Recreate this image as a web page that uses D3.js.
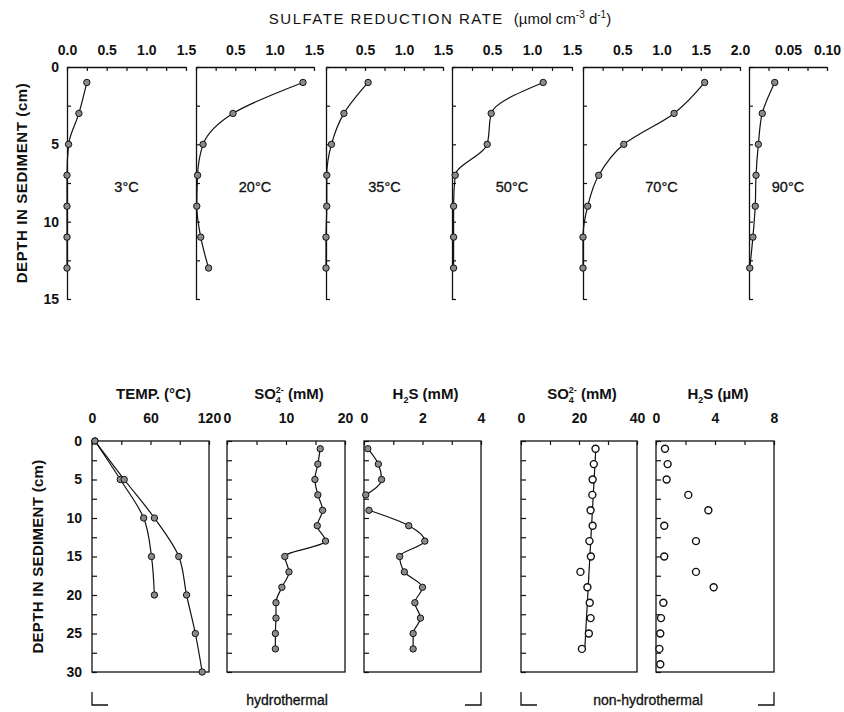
<!DOCTYPE html>
<html lang="en">
<head>
<meta charset="UTF-8">
<title>Sulfate reduction and porewater profiles</title>
<script src="https://d3js.org/d3.v7.min.js"></script>
<style>
  body { margin: 0; background: #fff; }
  svg { display: block; font-family: "Liberation Sans", Arial, Helvetica, sans-serif; }
</style>
</head>
<body>
<div id="chart"></div>
<script>
// ---- Data: sulfate reduction rate (umol cm-3 d-1) vs depth (cm)
const rateDepths = [1, 3, 5, 7, 9, 11, 13];
const rate3C  = [0.25, 0.15, 0.02, 0.00, 0.00, 0.00, 0.00];
const rate20C = [1.36, 0.47, 0.09, 0.02, 0.01, 0.06, 0.16];
const rate35C = [0.54, 0.23, 0.07, 0.01, 0.01, 0.00, 0.00];
const rate50C = [1.14, 0.49, 0.44, 0.04, 0.02, 0.02, 0.02];
const rate70C = [1.55, 1.16, 0.52, 0.20, 0.06, 0.00, 0.00];
const rate90C = [0.033, 0.017, 0.012, 0.009, 0.008, 0.005, 0.001];
const incubationTemps = ["3°C", "20°C", "35°C", "50°C", "70°C", "90°C"];
const rateMax = [1.5, 1.5, 1.5, 1.5, 2.0, 0.10];
const rateTickStep = [0.25, 0.25, 0.25, 0.25, 0.25, 0.025];
const rateTickLabels = [
  [0, 0.5, 1.0, 1.5], [0.5, 1.0, 1.5], [0.5, 1.0, 1.5],
  [0.5, 1.0, 1.5], [0.5, 1.0, 1.5, 2.0], [0.05, 0.10]
];
const rateDepthLabels = [0, 5, 10, 15];

// ---- Data: temperature (°C), two cores
const tempDepthsA = [0, 5, 10, 15, 20, 25, 30];
const tempA = [3, 33, 64, 89, 97, 106, 113];
const tempDepthsB = [0, 5, 10, 15, 20];
const tempB = [3, 29, 53, 61, 64];
const tempTickLabels = [0, 60, 120];

// ---- Data: porewater, hydrothermal
const poreDepths = [1, 3, 5, 7, 9, 11, 13, 15, 17, 19, 21, 23, 25, 27];
const so4Hydro = [15.8, 15.4, 14.9, 15.4, 16.2, 15.3, 16.7, 9.8, 10.5, 9.3, 8.3, 8.3, 8.2, 8.2];
const h2sHydro = [0.13, 0.49, 0.60, 0.06, 0.17, 1.53, 2.08, 1.22, 1.38, 2.00, 1.74, 1.93, 1.68, 1.68];
const h2sHydroGapAfter = 7; // profile not joined between 7 and 9 cm
const so4HydroTickLabels = [0, 10, 20];
const h2sHydroTickLabels = [0, 2, 4];

// ---- Data: porewater, non-hydrothermal
const so4NonHydro = [25.7, 25.1, 24.7, 24.6, 24.0, 24.7, 23.6, 24.1, 20.5, 22.9, 23.7, 24.0, 23.4, 21.0];
const so4FitDepths = [1, 27];
const so4FitValues = [25.8, 22.0];
const h2sNonHydroDepths = [1, 3, 5, 7, 9, 11, 13, 15, 17, 19, 21, 23, 25, 27, 29];
const h2sNonHydro = [0.61, 0.79, 0.72, 2.19, 3.55, 0.56, 2.71, 0.56, 2.71, 3.91, 0.50, 0.34, 0.29, 0.23, 0.29];
const so4NonHydroTickLabels = [0, 20, 40];
const h2sNonHydroTickLabels = [0, 4, 8];
const poreDepthLabels = [0, 5, 10, 15, 20, 25, 30];

// ---- Canvas
const width = 844, height = 712;
const ink = "#111";
const dotFill = "#8a8a8a";

const svg = d3.select("#chart").append("svg")
  .attr("width", width)
  .attr("height", height)
  .attr("viewBox", `0 0 ${width} ${height}`);

const zip = (depths, values) => depths.map((d, i) => ({ d, v: values[i] }));

function styleAxis(sel) {
  sel.select(".domain").attr("stroke", ink).attr("stroke-width", 1.3);
  sel.selectAll(".tick line").attr("stroke", ink).attr("stroke-width", 1.2);
}

function labelAxis(sel, size) {
  sel.select(".domain").remove();
  sel.selectAll(".tick text")
    .attr("fill", ink)
    .attr("font-size", size)
    .attr("font-weight", "bold")
    .attr("font-family", "Liberation Sans, Arial, sans-serif");
}

function drawProfile(g, x, y, pts, opts) {
  if (opts.line) {
    g.append("path")
      .datum(pts)
      .attr("fill", "none")
      .attr("stroke", ink)
      .attr("stroke-width", 1.2)
      .attr("d", d3.line().x(p => x(p.v)).y(p => y(p.d)).curve(d3.curveMonotoneY));
  }
  g.selectAll(null)
    .data(pts)
    .join("circle")
    .attr("cx", p => x(p.v))
    .attr("cy", p => y(p.d))
    .attr("r", opts.open ? 3.5 : 3.2)
    .attr("fill", opts.open ? "#fff" : dotFill)
    .attr("stroke", ink)
    .attr("stroke-width", opts.open ? 1.4 : 1);
}

// ================= Top: sulfate reduction rates =================
const rateY = d3.scaleLinear().domain([0, 15]).range([67, 299]);
const rateSeries = [rate3C, rate20C, rate35C, rate50C, rate70C, rate90C];
const topPanels = [[67, 186], [196, 314], [326, 443], [452, 572], [583, 740], [749, 827]];

svg.append("text")
  .attr("x", 440)
  .attr("y", 24)
  .attr("text-anchor", "middle")
  .attr("font-size", 15)
  .attr("fill", ink)
  .html(`<tspan letter-spacing="1.5">SULFATE REDUCTION RATE</tspan><tspan dx="10">(µmol cm</tspan><tspan font-size="10" dy="-6">-3</tspan><tspan dy="6"> d</tspan><tspan font-size="10" dy="-6">-1</tspan><tspan dy="6">)</tspan>`);

topPanels.forEach(([x0, x1], i) => {
  const x = d3.scaleLinear().domain([0, rateMax[i]]).range([x0, x1]);
  const g = svg.append("g");

  g.append("g")
    .attr("transform", `translate(0,${rateY(0)})`)
    .call(d3.axisTop(x)
      .tickValues(d3.range(0, rateMax[i] + 1e-9, rateTickStep[i]))
      .tickSize(-4).tickSizeOuter(0).tickFormat(""))
    .call(styleAxis);

  g.append("g")
    .attr("transform", `translate(0,${rateY(0)})`)
    .call(d3.axisTop(x)
      .tickValues(rateTickLabels[i])
      .tickSize(0).tickPadding(12)
      .tickFormat(d3.format(i === 5 ? ".2f" : ".1f")))
    .call(labelAxis, 14);

  g.append("g")
    .attr("transform", `translate(${x0},0)`)
    .call(d3.axisLeft(rateY)
      .tickValues(d3.range(0, 15.01, 2.5))
      .tickSize(-4).tickSizeOuter(0).tickFormat(""))
    .call(styleAxis);

  if (i === 0) {
    g.append("g")
      .attr("transform", `translate(${x0},0)`)
      .call(d3.axisLeft(rateY).tickValues(rateDepthLabels).tickSize(0).tickPadding(8))
      .call(labelAxis, 14);
  }

  drawProfile(g, x, rateY, zip(rateDepths, rateSeries[i]), { line: true });

  g.append("text")
    .attr("x", (x0 + x1) / 2)
    .attr("y", 192)
    .attr("text-anchor", "middle")
    .attr("font-size", 14.5)
    .attr("fill", ink)
    .attr("stroke", ink)
    .attr("stroke-width", 0.3)
    .text(incubationTemps[i]);
});

svg.append("text")
  .attr("transform", `translate(27,${(67 + 299) / 2}) rotate(-90)`)
  .attr("text-anchor", "middle")
  .attr("font-size", 15)
  .attr("font-weight", "bold")
  .attr("letter-spacing", 0.6)
  .attr("fill", ink)
  .text("DEPTH IN SEDIMENT (cm)");

// ================= Bottom: temperature and porewater =================
const depthY = d3.scaleLinear().domain([0, 30]).range([441, 672]);

const bottomPanels = [
  { x0: 92,  x1: 209, max: 120, step: 30,  labels: tempTickLabels, title: "TEMP. (°C)" },
  { x0: 227, x1: 345, max: 20,  step: 5,   labels: so4HydroTickLabels, title: "so4", unit: "mM" },
  { x0: 364, x1: 481, max: 4,   step: 1,   labels: h2sHydroTickLabels, title: "h2s", unit: "mM" },
  { x0: 521, x1: 637, max: 40,  step: 10,  labels: so4NonHydroTickLabels, title: "so4", unit: "mM" },
  { x0: 656, x1: 774, max: 8,   step: 2,   labels: h2sNonHydroTickLabels, title: "h2s", unit: "µM" }
];

const bx = bottomPanels.map((p, i) => {
  const x = d3.scaleLinear().domain([0, p.max]).range([p.x0, p.x1]);
  const g = svg.append("g");

  g.append("rect")
    .attr("x", p.x0).attr("y", depthY(0))
    .attr("width", p.x1 - p.x0).attr("height", depthY(30) - depthY(0))
    .attr("fill", "none").attr("stroke", ink).attr("stroke-width", 1.3);

  g.append("g")
    .attr("transform", `translate(0,${depthY(0)})`)
    .call(d3.axisTop(x).tickValues(d3.range(0, p.max + 1e-9, p.step))
      .tickSize(-4).tickSizeOuter(0).tickFormat(""))
    .call(styleAxis)
    .call(s => s.select(".domain").remove());

  g.append("g")
    .attr("transform", `translate(0,${depthY(0)})`)
    .call(d3.axisTop(x).tickValues(p.labels).tickSize(0).tickPadding(18).tickFormat(d3.format("d")))
    .call(labelAxis, 14);

  g.append("g")
    .attr("transform", `translate(${p.x0},0)`)
    .call(d3.axisLeft(depthY).tickValues(d3.range(0, 30.01, 2.5))
      .tickSize(-5).tickSizeOuter(0).tickFormat(""))
    .call(styleAxis)
    .call(s => s.select(".domain").remove());

  if (i === 0) {
    g.append("g")
      .attr("transform", `translate(${p.x0},0)`)
      .call(d3.axisLeft(depthY).tickValues(poreDepthLabels).tickSize(0).tickPadding(10))
      .call(labelAxis, 14);
  }

  const t = g.append("text")
    .attr("x", (p.x0 + p.x1) / 2 + 3)
    .attr("y", 399)
    .attr("text-anchor", "middle")
    .attr("font-size", 15)
    .attr("font-weight", "bold")
    .attr("fill", ink);
  if (p.title === "so4") {
    t.html(`SO<tspan font-size="9" dy="4">4</tspan><tspan font-size="9" dx="-5" dy="-10">2-</tspan><tspan dy="6"> (${p.unit})</tspan>`);
  } else if (p.title === "h2s") {
    t.html(`H<tspan font-size="9" dy="4">2</tspan><tspan dy="-4">S (${p.unit})</tspan>`);
  } else {
    t.text(p.title);
  }
  return { g, x };
});

// temperature: two cores
drawProfile(bx[0].g, bx[0].x, depthY, zip(tempDepthsB, tempB), { line: true });
drawProfile(bx[0].g, bx[0].x, depthY, zip(tempDepthsA, tempA), { line: true });

// hydrothermal sulfate and sulfide
drawProfile(bx[1].g, bx[1].x, depthY, zip(poreDepths, so4Hydro), { line: true });
const h2sPts = zip(poreDepths, h2sHydro);
drawProfile(bx[2].g, bx[2].x, depthY, h2sPts.filter(p => p.d <= h2sHydroGapAfter), { line: true });
drawProfile(bx[2].g, bx[2].x, depthY, h2sPts.filter(p => p.d > h2sHydroGapAfter), { line: true });

// non-hydrothermal: sulfate with trend line, sulfide points only
bx[3].g.append("path")
  .datum(zip(so4FitDepths, so4FitValues))
  .attr("fill", "none")
  .attr("stroke", ink)
  .attr("stroke-width", 1.2)
  .attr("d", d3.line().x(p => bx[3].x(p.v)).y(p => depthY(p.d)));
drawProfile(bx[3].g, bx[3].x, depthY, zip(poreDepths, so4NonHydro), { open: true });
drawProfile(bx[4].g, bx[4].x, depthY, zip(h2sNonHydroDepths, h2sNonHydro), { open: true });

svg.append("text")
  .attr("transform", `translate(43,${(441 + 672) / 2}) rotate(-90)`)
  .attr("text-anchor", "middle")
  .attr("font-size", 15)
  .attr("font-weight", "bold")
  .attr("letter-spacing", 0.3)
  .attr("fill", ink)
  .text("DEPTH IN SEDIMENT (cm)");

// group brackets
const groups = [
  { x0: bottomPanels[0].x0, x1: bottomPanels[2].x1, label: "hydrothermal", cx: 287 },
  { x0: bottomPanels[3].x0, x1: bottomPanels[4].x1, label: "non-hydrothermal", cx: 648 }
];
groups.forEach(gr => {
  const b = svg.append("g").attr("fill", "none").attr("stroke", ink).attr("stroke-width", 1.3);
  b.append("path").attr("d", `M${gr.x0},692V705H${gr.x0 + 16}`);
  b.append("path").attr("d", `M${gr.x1 - 16},705H${gr.x1}V692`);
  svg.append("text")
    .attr("x", gr.cx)
    .attr("y", 705)
    .attr("text-anchor", "middle")
    .attr("font-size", 14)
    .attr("fill", ink)
    .attr("stroke", ink)
    .attr("stroke-width", 0.3)
    .text(gr.label);
});
</script>
</body>
</html>
